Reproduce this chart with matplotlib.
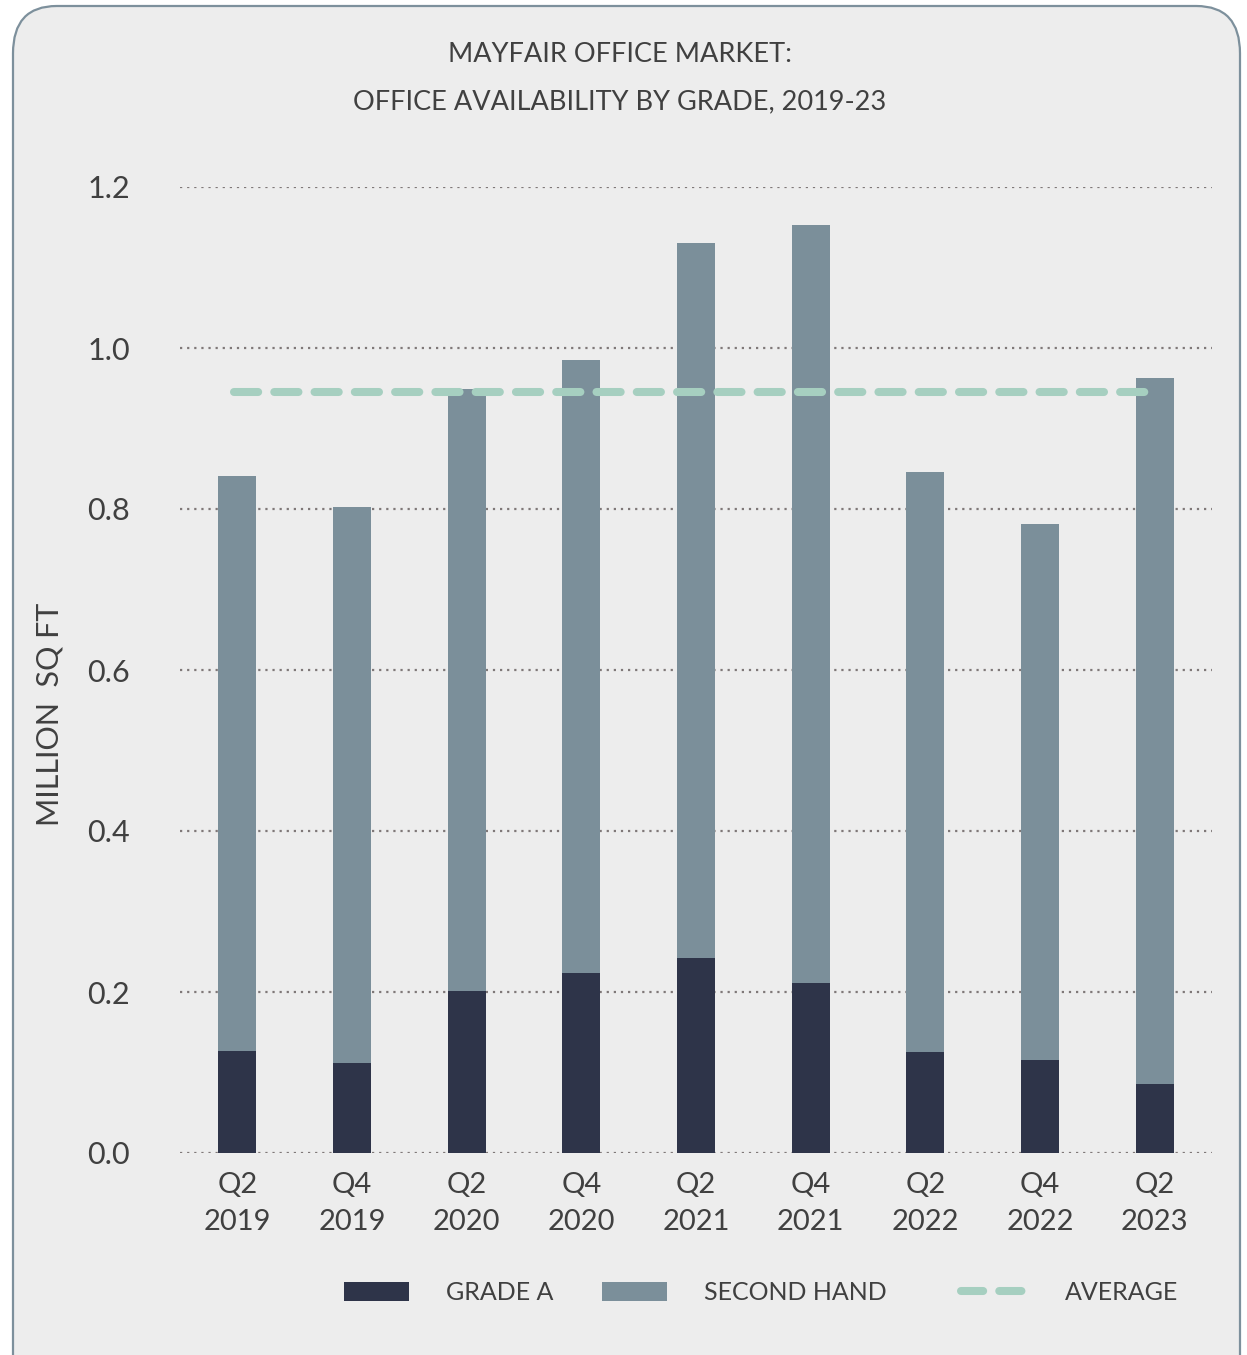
import matplotlib
matplotlib.use('Agg')
import matplotlib.pyplot as plt
from matplotlib.patches import FancyBboxPatch, Patch
from matplotlib.lines import Line2D

periods = ['Q2\n2019', 'Q4\n2019', 'Q2\n2020', 'Q4\n2020', 'Q2\n2021',
           'Q4\n2021', 'Q2\n2022', 'Q4\n2022', 'Q2\n2023']
grade_a = [0.127, 0.112, 0.201, 0.223, 0.242, 0.211, 0.126, 0.116, 0.086]
totals = [0.841, 0.803, 0.949, 0.985, 1.130, 1.153, 0.846, 0.781, 0.963]
second_hand = [t - a for t, a in zip(totals, grade_a)]
average = 0.945

BG = '#ededed'
TXT = '#404040'
C_A = '#2e3449'
C_SH = '#7b8f9a'
C_AVG = '#a6cfc0'
plt.rcParams['font.family'] = ['Lato', 'DejaVu Sans']

fig = plt.figure(figsize=(12.47, 13.55), dpi=100)
fig.patch.set_facecolor('white')

# rounded frame behind everything
frame = FancyBboxPatch((13 / 1247, -0.05), 1227 / 1247, 1.05 - 6 / 1355,
                       boxstyle='round,pad=0,rounding_size=0.035',
                       transform=fig.transFigure, facecolor=BG,
                       edgecolor='#7d909c', linewidth=1.6, zorder=-5)
fig.patches.append(frame)

ax = fig.add_axes([180 / 1247, 1 - 1153 / 1355, 1032 / 1247, (1153 - 187) / 1355])
ax.set_facecolor('none')

x = range(len(periods))
ax.bar(x, grade_a, width=0.33, color=C_A, zorder=2)
ax.bar(x, second_hand, width=0.33, bottom=grade_a, color=C_SH, zorder=2)
ax.plot([-0.03, 8.0], [average, average], color=C_AVG, lw=5.8,
        dashes=(3.0, 2.0), dash_capstyle='round', zorder=3)

ax.set_xlim(-0.5, 8.5)
ax.set_ylim(0, 1.2)
ax.set_yticks([0, 0.2, 0.4, 0.6, 0.8, 1.0, 1.2])
ax.set_yticklabels(['0.0', '0.2', '0.4', '0.6', '0.8', '1.0', '1.2'])
ax.set_xticks(list(x))
ax.set_xticklabels(periods, linespacing=1.5)
ax.tick_params(axis='y', length=0, pad=36, labelsize=22, labelcolor=TXT)
ax.tick_params(axis='x', length=0, pad=14, labelsize=21, labelcolor=TXT)
ax.yaxis.grid(True, linestyle=(0, (1, 2.2)), color='#7f7878', linewidth=1.6, zorder=1)
ax.set_axisbelow(True)
for s in ax.spines.values():
    s.set_visible(False)

fig.text(50 / 1247, 1 - 714 / 1355, 'MILLION  SQ FT', rotation=90, ha='center',
         va='center', fontsize=22, color=TXT)
fig.text(620 / 1247, 1 - 55 / 1355, 'MAYFAIR OFFICE MARKET:', ha='center',
         va='center', fontsize=19.5, color=TXT)
fig.text(620 / 1247, 1 - 102 / 1355, 'OFFICE AVAILABILITY BY GRADE, 2019-23',
         ha='center', va='center', fontsize=19.5, color=TXT)

# legend entries placed one by one
entries = [
    (Patch(facecolor=C_A), 'GRADE A', 344, 2.6, 1.5),
    (Patch(facecolor=C_SH), 'SECOND HAND', 602, 2.6, 1.5),
    (Line2D([0], [0], color=C_AVG, lw=5.8, dashes=(2.75, 2.0),
            dash_capstyle='round'), 'AVERAGE', 961, 2.45, 1.7),
]
for handle, label, xpos, hlen, hpad in entries:
    fig.legend([handle], [label], loc='center left',
               bbox_to_anchor=(xpos / 1247, 1 - 1293 / 1355),
               frameon=False, fontsize=18, labelcolor=TXT, borderpad=0,
               borderaxespad=0, handlelength=hlen, handleheight=0.8,
               handletextpad=hpad)

fig.savefig('out.png', dpi=100, facecolor=fig.get_facecolor())
